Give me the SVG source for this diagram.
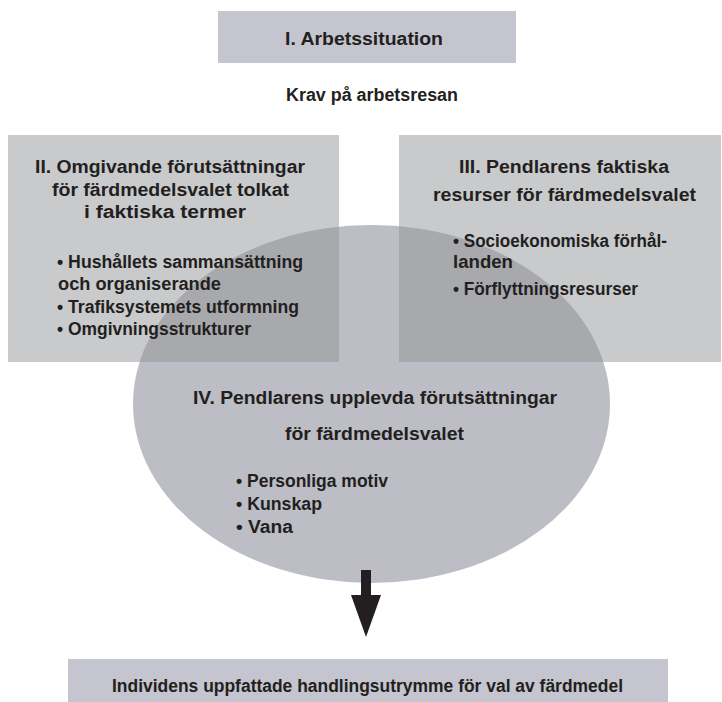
<svg xmlns="http://www.w3.org/2000/svg" width="722" height="702" viewBox="0 0 722 702">
<defs>
<style>
text{font-family:"Liberation Sans",Arial,Helvetica,sans-serif;font-weight:bold;font-size:18px;fill:#231f20}
.lav{fill:#c5c5cf}
.gry{fill:#c9cacc}
.ell{fill:#bdbdc6}
.ovl{fill:#a8a9ad}
.arr{fill:#231f20}
</style>
<clipPath id="ellClip"><ellipse cx="371.5" cy="404" rx="238.5" ry="179"/></clipPath>
</defs>
<rect width="722" height="702" fill="#ffffff"/>
<g id="node-I">
<rect class="lav" x="218" y="11" width="298" height="52"/>
</g>
<g id="node-II">
<rect class="gry" x="8" y="135" width="331" height="227"/>
</g>
<g id="node-III">
<rect class="gry" x="399" y="135" width="322" height="227"/>
</g>
<g id="node-IV">
<ellipse class="ell" cx="371.5" cy="404" rx="238.5" ry="179"/>
<g clip-path="url(#ellClip)">
<rect class="ovl" x="8" y="135" width="331" height="227"/>
<rect class="ovl" x="399" y="135" width="322" height="227"/>
</g>
</g>
<g id="node-result">
<rect class="lav" x="68" y="659" width="600" height="43"/>
</g>
<g id="connectors">
<rect class="arr" x="361" y="570" width="10" height="26"/>
<polygon class="arr" points="351,595 381,595 366,637"/>
</g>
<g id="labels">
<text x="285" y="45" textLength="158" lengthAdjust="spacingAndGlyphs">I. Arbetssituation</text>
<text x="286" y="101" textLength="172" lengthAdjust="spacingAndGlyphs">Krav på arbetsresan</text>
<text x="35" y="173" textLength="270" lengthAdjust="spacingAndGlyphs">II. Omgivande förutsättningar</text>
<text x="52" y="196" textLength="237" lengthAdjust="spacingAndGlyphs">för färdmedelsvalet tolkat</text>
<text x="84" y="218" textLength="162" lengthAdjust="spacingAndGlyphs">i faktiska termer</text>
<text x="57" y="268" textLength="246" lengthAdjust="spacingAndGlyphs">• Hushållets sammansättning</text>
<text x="58" y="290" textLength="163" lengthAdjust="spacingAndGlyphs">och organiserande</text>
<text x="57" y="313" textLength="242" lengthAdjust="spacingAndGlyphs">• Trafiksystemets utformning</text>
<text x="57" y="335" textLength="194" lengthAdjust="spacingAndGlyphs">• Omgivningsstrukturer</text>
<text x="459" y="173" textLength="210" lengthAdjust="spacingAndGlyphs">III. Pendlarens faktiska</text>
<text x="433" y="201" textLength="263" lengthAdjust="spacingAndGlyphs">resurser för färdmedelsvalet</text>
<text x="453" y="247" textLength="214" lengthAdjust="spacingAndGlyphs">• Socioekonomiska förhål-</text>
<text x="453" y="268" textLength="60" lengthAdjust="spacingAndGlyphs">landen</text>
<text x="453" y="295" textLength="185" lengthAdjust="spacingAndGlyphs">• Förflyttningsresurser</text>
<text x="193" y="404" textLength="364" lengthAdjust="spacingAndGlyphs">IV. Pendlarens upplevda förutsättningar</text>
<text x="285" y="440" textLength="179" lengthAdjust="spacingAndGlyphs">för färdmedelsvalet</text>
<text x="236" y="487" textLength="152" lengthAdjust="spacingAndGlyphs">• Personliga motiv</text>
<text x="236" y="510" textLength="86" lengthAdjust="spacingAndGlyphs">• Kunskap</text>
<text x="236" y="533" textLength="57" lengthAdjust="spacingAndGlyphs">• Vana</text>
<text x="112" y="692" textLength="511" lengthAdjust="spacingAndGlyphs">Individens uppfattade handlingsutrymme för val av färdmedel</text>
</g>
</svg>
